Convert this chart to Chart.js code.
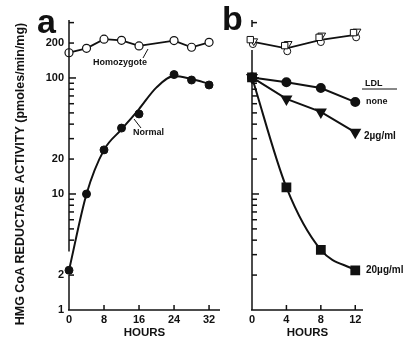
<!DOCTYPE html>
<html>
<head>
<meta charset="utf-8">
<script src="https://cdn.jsdelivr.net/npm/chart.js@4.4.1/dist/chart.umd.min.js"></script>
<style>
  html, body { margin: 0; padding: 0; background: #fff; }
  #wrap { position: relative; width: 411px; height: 343px; }
  #wrap canvas { position: absolute; left: 0; top: 0; }
</style>
</head>
<body>
<div id="wrap">
  <canvas id="chartA" width="411" height="343"></canvas>
  <canvas id="chartB" width="411" height="343"></canvas>
</div>
<script>
// Panel a: HMG CoA reductase activity vs hours
const aHours = [0, 4, 8, 12, 16, 24, 28, 32];
const aHomozygote = [165, 180, 216, 211, 189, 210, 184, 203];
const aNormal = [2.2, 10, 24, 37, 49, 107, 96, 87];
// hand drawn curve through the normal cells
const aFitHours = [0, 4, 8, 12, 16, 20, 24, 28, 32];
const aNormalFit = [2.2, 10, 24, 36, 54, 83, 104, 98, 89];
const aXTicks = [0, 8, 16, 24, 32];
const aYLabels = [1, 2, 10, 20, 100, 200];

// Panel b: effect of LDL
const bHours = [0, 4, 8, 12];
const bNone = [101, 92, 82, 62];
const bLdl2 = [101, 66, 51, 34];
const bLdl20 = [101, 11.4, 3.3, 2.2];
const bHomozygote = [206, 180, 213, 235];
// homozygote symbols overlap at each time point
const bSquareHours = [-0.2, 3.8, 7.8, 11.8];
const bOpenSquare = [214, 190, 224, 246];
const bTriHours = [0.2, 4.2, 8.1, 12.2];
const bOpenTri = [208, 197, 233, 252];
const bCircHours = [0.1, 4.1, 8.0, 12.1];
const bOpenCirc = [196, 170, 204, 224];
const bXTicks = [0, 4, 8, 12];

const minorTicks = [2, 3, 4, 5, 6, 7, 8, 9, 10, 20, 30, 40, 50, 60, 70, 80, 90, 100, 200, 300];
const yMin = 1, yMax = 316;

Chart.defaults.font.family = "'Liberation Sans', Arial, sans-serif";
Chart.defaults.color = "#111";

const ink = "#111";

function pts(xs, ys) {
  return xs.map((x, i) => ({ x: x, y: ys[i] }));
}

// draws the broken axes, inward ticks and the hand lettering
function decorPlugin(opts) {
  return {
    id: "decor",
    afterDraw(chart) {
      const ctx = chart.ctx;
      const xs = chart.scales.x;
      const ys = chart.scales.y;
      const left = chart.chartArea.left;
      const bottom = chart.chartArea.bottom;
      ctx.save();
      ctx.strokeStyle = ink;
      ctx.fillStyle = ink;
      ctx.lineWidth = 1.5;
      ctx.lineCap = "butt";
      const line = (x1, y1, x2, y2) => {
        ctx.beginPath();
        ctx.moveTo(x1, y1);
        ctx.lineTo(x2, y2);
        ctx.stroke();
      };
      opts.ySegments.forEach(([lo, hi]) => {
        line(left, ys.getPixelForValue(lo), left, ys.getPixelForValue(hi));
      });
      line(left - 1, bottom, chart.chartArea.right, bottom);
      opts.yTicks.forEach((v) => {
        const py = ys.getPixelForValue(v);
        const len = v === 10 || v === 100 ? 7 : 5;
        line(left, py, left + len, py);
      });
      opts.xTicks.forEach((v) => {
        if (v === 0) return;
        const px = xs.getPixelForValue(v);
        line(px, bottom, px, bottom - 5);
      });
      ctx.lineWidth = 1;
      (opts.leaders || []).forEach((l) => line(l[0], l[1], l[2], l[3]));
      ctx.textBaseline = "middle";
      ctx.textAlign = "left";
      (opts.texts || []).forEach((t) => {
        ctx.font = t.font;
        ctx.fillText(t.text, t.x, t.y);
      });
      if (opts.yTitle) {
        ctx.save();
        ctx.translate(opts.yTitle.x, opts.yTitle.y);
        ctx.rotate(-Math.PI / 2);
        ctx.textAlign = "center";
        ctx.font = opts.yTitle.font;
        ctx.fillText(opts.yTitle.text, 0, 0);
        ctx.restore();
      }
      ctx.restore();
    },
  };
}

function baseScales(xMax, xTicks, yLabels, yWidth) {
  return {
    x: {
      type: "linear",
      min: 0,
      max: xMax,
      afterBuildTicks: (s) => { s.ticks = xTicks.map((v) => ({ value: v })); },
      afterFit: (s) => { s.height = 33; },
      ticks: { autoSkip: false, maxRotation: 0, padding: 3, font: { size: 11, weight: "bold" }, color: ink },
      grid: { display: false, drawTicks: false },
      border: { display: false },
      title: { display: true, text: "HOURS", font: { size: 11.5, weight: "bold" }, color: ink, padding: { top: 0, bottom: 3 } },
    },
    y: {
      type: "logarithmic",
      min: yMin,
      max: yMax,
      afterBuildTicks: (s) => { s.ticks = yLabels.map((v) => ({ value: v })); },
      afterFit: (s) => { s.width = yWidth; },
      ticks: {
        display: yLabels.length > 0,
        autoSkip: false,
        padding: 5,
        font: { size: 11, weight: "bold" },
        color: ink,
        callback: (v) => String(v),
      },
      grid: { display: false, drawTicks: false },
      border: { display: false },
    },
  };
}

const common = {
  responsive: false,
  animation: false,
  devicePixelRatio: 1,
  plugins: { legend: { display: false }, tooltip: { enabled: false } },
};

new Chart(document.getElementById("chartA"), {
  type: "scatter",
  data: {
    datasets: [
      {
        label: "Homozygote",
        data: pts(aHours, aHomozygote),
        showLine: true,
        borderColor: ink,
        borderWidth: 1.8,
        pointRadius: 4,
        pointBorderWidth: 1.2,
        pointBackgroundColor: "#fff",
        pointBorderColor: ink,
        clip: false,
      },
      {
        label: "Normal",
        data: pts(aHours, aNormal),
        showLine: false,
        pointRadius: 4,
        pointBackgroundColor: ink,
        pointBorderColor: ink,
        clip: false,
      },
      {
        label: "Normal curve",
        data: pts(aFitHours, aNormalFit),
        showLine: true,
        cubicInterpolationMode: "monotone",
        borderColor: ink,
        borderWidth: 2,
        pointRadius: 0,
        clip: false,
      },
    ],
  },
  options: {
    ...common,
    layout: { padding: { left: 0, right: 191, top: 20, bottom: 0 } },
    scales: baseScales(34.5, aXTicks, aYLabels, 69),
  },
  plugins: [
    decorPlugin({
      ySegments: [[1, 2], [3.2, yMax]],
      yTicks: minorTicks.filter((v) => v !== 3),
      xTicks: aXTicks,
      leaders: [[148, 49, 143, 58], [134, 119, 141, 128]],
      texts: [
        { text: "a", x: 37, y: 24, font: "bold 34px 'Liberation Sans', Arial, sans-serif" },
        { text: "Homozygote", x: 93, y: 63, font: "bold 9px 'Liberation Sans', Arial, sans-serif" },
        { text: "Normal", x: 133, y: 133, font: "bold 9px 'Liberation Sans', Arial, sans-serif" },
      ],
      yTitle: {
        text: "HMG CoA REDUCTASE ACTIVITY (pmoles/min/mg)",
        x: 21,
        y: 174,
        font: "bold 12.5px 'Liberation Sans', Arial, sans-serif",
      },
    }),
  ],
});

new Chart(document.getElementById("chartB"), {
  type: "scatter",
  data: {
    datasets: [
      {
        label: "Homozygote squares",
        data: pts(bSquareHours, bOpenSquare),
        showLine: false,
        pointStyle: "rect",
        pointRadius: 4.5,
        pointBorderWidth: 1,
        pointBackgroundColor: "#fff",
        pointBorderColor: ink,
        clip: false,
      },
      {
        label: "Homozygote triangles",
        data: pts(bTriHours, bOpenTri),
        showLine: false,
        pointStyle: "triangle",
        rotation: 180,
        pointRadius: 4.5,
        pointBorderWidth: 1,
        pointBackgroundColor: "#fff",
        pointBorderColor: ink,
        clip: false,
      },
      {
        label: "Homozygote circles",
        data: pts(bCircHours, bOpenCirc),
        showLine: false,
        pointRadius: 3.5,
        pointBorderWidth: 1,
        pointBackgroundColor: "#fff",
        pointBorderColor: ink,
        clip: false,
      },
      {
        label: "Homozygote",
        data: pts(bHours, bHomozygote),
        showLine: true,
        borderColor: ink,
        borderWidth: 1.8,
        pointRadius: 0,
        clip: false,
      },
      {
        label: "none",
        data: pts(bHours, bNone),
        showLine: true,
        borderColor: ink,
        borderWidth: 2,
        pointRadius: 4,
        pointBackgroundColor: ink,
        pointBorderColor: ink,
        clip: false,
      },
      {
        label: "2 µg/ml",
        data: pts(bHours, bLdl2),
        showLine: true,
        borderColor: ink,
        borderWidth: 2,
        pointStyle: "triangle",
        rotation: 180,
        pointRadius: 5,
        pointBackgroundColor: ink,
        pointBorderColor: ink,
        clip: false,
      },
      {
        label: "20 µg/ml",
        data: pts(bHours, bLdl20),
        showLine: true,
        cubicInterpolationMode: "monotone",
        borderColor: ink,
        borderWidth: 2,
        pointStyle: "rect",
        pointRadius: 5.5,
        pointBackgroundColor: ink,
        pointBorderColor: ink,
        clip: false,
      },
    ],
  },
  options: {
    ...common,
    layout: { padding: { left: 0, right: 48, top: 20, bottom: 0 } },
    scales: baseScales(12.9, bXTicks, [], 252),
  },
  plugins: [
    decorPlugin({
      ySegments: [[yMin, 174], [275, yMax]],
      yTicks: minorTicks.filter((v) => v <= 100 || v === 300),
      xTicks: bXTicks,
      leaders: [[362, 89, 397, 89]],
      texts: [
        { text: "b", x: 222, y: 21, font: "bold 34px 'Liberation Sans', Arial, sans-serif" },
        { text: "LDL", x: 365, y: 84, font: "bold 9px 'Liberation Sans', Arial, sans-serif" },
        { text: "none", x: 366, y: 102, font: "bold 9px 'Liberation Sans', Arial, sans-serif" },
        { text: "2\u00b5g/ml", x: 364, y: 136, font: "bold 10px 'Liberation Sans', Arial, sans-serif" },
        { text: "20\u00b5g/ml", x: 366, y: 270, font: "bold 10px 'Liberation Sans', Arial, sans-serif" },
      ],
    }),
  ],
});
</script>
</body>
</html>
